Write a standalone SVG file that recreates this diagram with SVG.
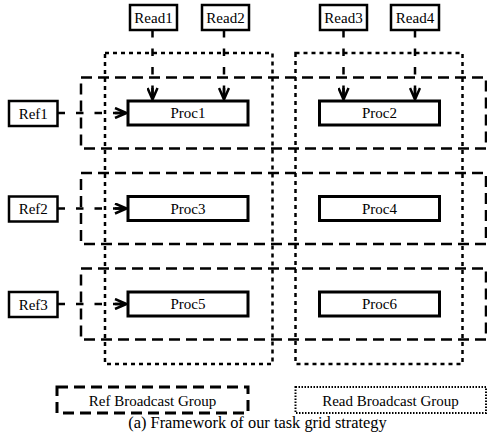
<svg xmlns="http://www.w3.org/2000/svg" width="487" height="441" viewBox="0 0 487 441">
  <style>
    text { font-family: "Liberation Serif", "Times New Roman", serif; font-size: 15px; fill: #000; text-anchor: middle; }
    .node { fill: #fff; stroke: #000; stroke-width: 2.5; }
    .proc { fill: #fff; stroke: #000; stroke-width: 3; }
    .refgrp { fill: none; stroke: #000; stroke-width: 2.5; stroke-dasharray: 11 6; }
    .readgrp { fill: none; stroke: #000; stroke-width: 2.5; stroke-dasharray: 4 4; }
    .link { fill: none; stroke: #000; stroke-width: 2.5; stroke-dasharray: 7.5 11; }
    .legend-read { fill: none; stroke: #000; stroke-width: 2; stroke-dasharray: 1.5 1.5; }
    .caption { font-size: 16.4px; }
  </style>
  <defs>
    <marker id="chevron" viewBox="0 0 14 12" refX="13" refY="6" markerWidth="14" markerHeight="12" markerUnits="userSpaceOnUse" orient="auto">
      <path d="M1,1 L12.5,6 L1,11 M1,6 L12.5,6" fill="none" stroke="#000" stroke-width="2.5"/>
    </marker>
  </defs>

  <!-- broadcast groups -->
  <g id="groups">
    <rect class="refgrp" x="81" y="77.5" width="405" height="71"/>
    <rect class="refgrp" x="81" y="173" width="405" height="71"/>
    <rect class="refgrp" x="81" y="268.5" width="405" height="71"/>
    <rect class="readgrp" x="105" y="53" width="167.5" height="311"/>
    <rect class="readgrp" x="295.5" y="53" width="167" height="311"/>
  </g>

  <!-- connectors -->
  <g id="connectors">
    <line class="link" x1="152.5" y1="30" x2="152.5" y2="100" marker-end="url(#chevron)"/>
    <line class="link" x1="224" y1="30" x2="224" y2="100" marker-end="url(#chevron)"/>
    <line class="link" x1="343.5" y1="30" x2="343.5" y2="100" marker-end="url(#chevron)"/>
    <line class="link" x1="415" y1="30" x2="415" y2="100" marker-end="url(#chevron)"/>
    <line class="link" x1="57.5" y1="113" x2="127" y2="113" marker-end="url(#chevron)"/>
    <line class="link" x1="57.5" y1="208.5" x2="127" y2="208.5" marker-end="url(#chevron)"/>
    <line class="link" x1="57.5" y1="304" x2="127" y2="304" marker-end="url(#chevron)"/>
  </g>

  <!-- read inputs -->
  <g id="read1"><rect class="node" x="130" y="5" width="47" height="25"/><text x="153.5" y="22.5">Read1</text></g>
  <g id="read2"><rect class="node" x="202" y="5" width="47" height="25"/><text x="225.5" y="22.5">Read2</text></g>
  <g id="read3"><rect class="node" x="320" y="5" width="47" height="25"/><text x="343.5" y="22.5">Read3</text></g>
  <g id="read4"><rect class="node" x="391" y="5" width="48" height="25"/><text x="415" y="22.5">Read4</text></g>

  <!-- reference inputs -->
  <g id="ref1"><rect class="node" x="9" y="101" width="48.5" height="25"/><text x="33.25" y="118.5">Ref1</text></g>
  <g id="ref2"><rect class="node" x="9" y="196.5" width="48.5" height="25"/><text x="33.25" y="214">Ref2</text></g>
  <g id="ref3"><rect class="node" x="9" y="292" width="48.5" height="25"/><text x="33.25" y="309.5">Ref3</text></g>

  <!-- processing tasks -->
  <g id="proc1"><rect class="proc" x="128" y="101" width="120" height="24"/><text x="188" y="118">Proc1</text></g>
  <g id="proc2"><rect class="proc" x="319.5" y="101" width="120" height="24"/><text x="379.5" y="118">Proc2</text></g>
  <g id="proc3"><rect class="proc" x="128" y="196.5" width="120" height="24"/><text x="188" y="213.5">Proc3</text></g>
  <g id="proc4"><rect class="proc" x="319.5" y="196.5" width="120" height="24"/><text x="379.5" y="213.5">Proc4</text></g>
  <g id="proc5"><rect class="proc" x="128" y="292" width="120" height="24"/><text x="188" y="309">Proc5</text></g>
  <g id="proc6"><rect class="proc" x="319.5" y="292" width="120" height="24"/><text x="379.5" y="309">Proc6</text></g>

  <!-- legend -->
  <g id="legend-ref">
    <rect x="57" y="387" width="191" height="26" fill="none" stroke="#000" stroke-width="3" stroke-dasharray="11 6"/>
    <text x="152.5" y="405.5">Ref Broadcast Group</text>
  </g>
  <g id="legend-read">
    <rect class="legend-read" x="295.5" y="387" width="190.5" height="26"/>
    <text x="390.5" y="405.5">Read Broadcast Group</text>
  </g>

  <text class="caption" x="257.5" y="428">(a) Framework of our task grid strategy</text>
</svg>
